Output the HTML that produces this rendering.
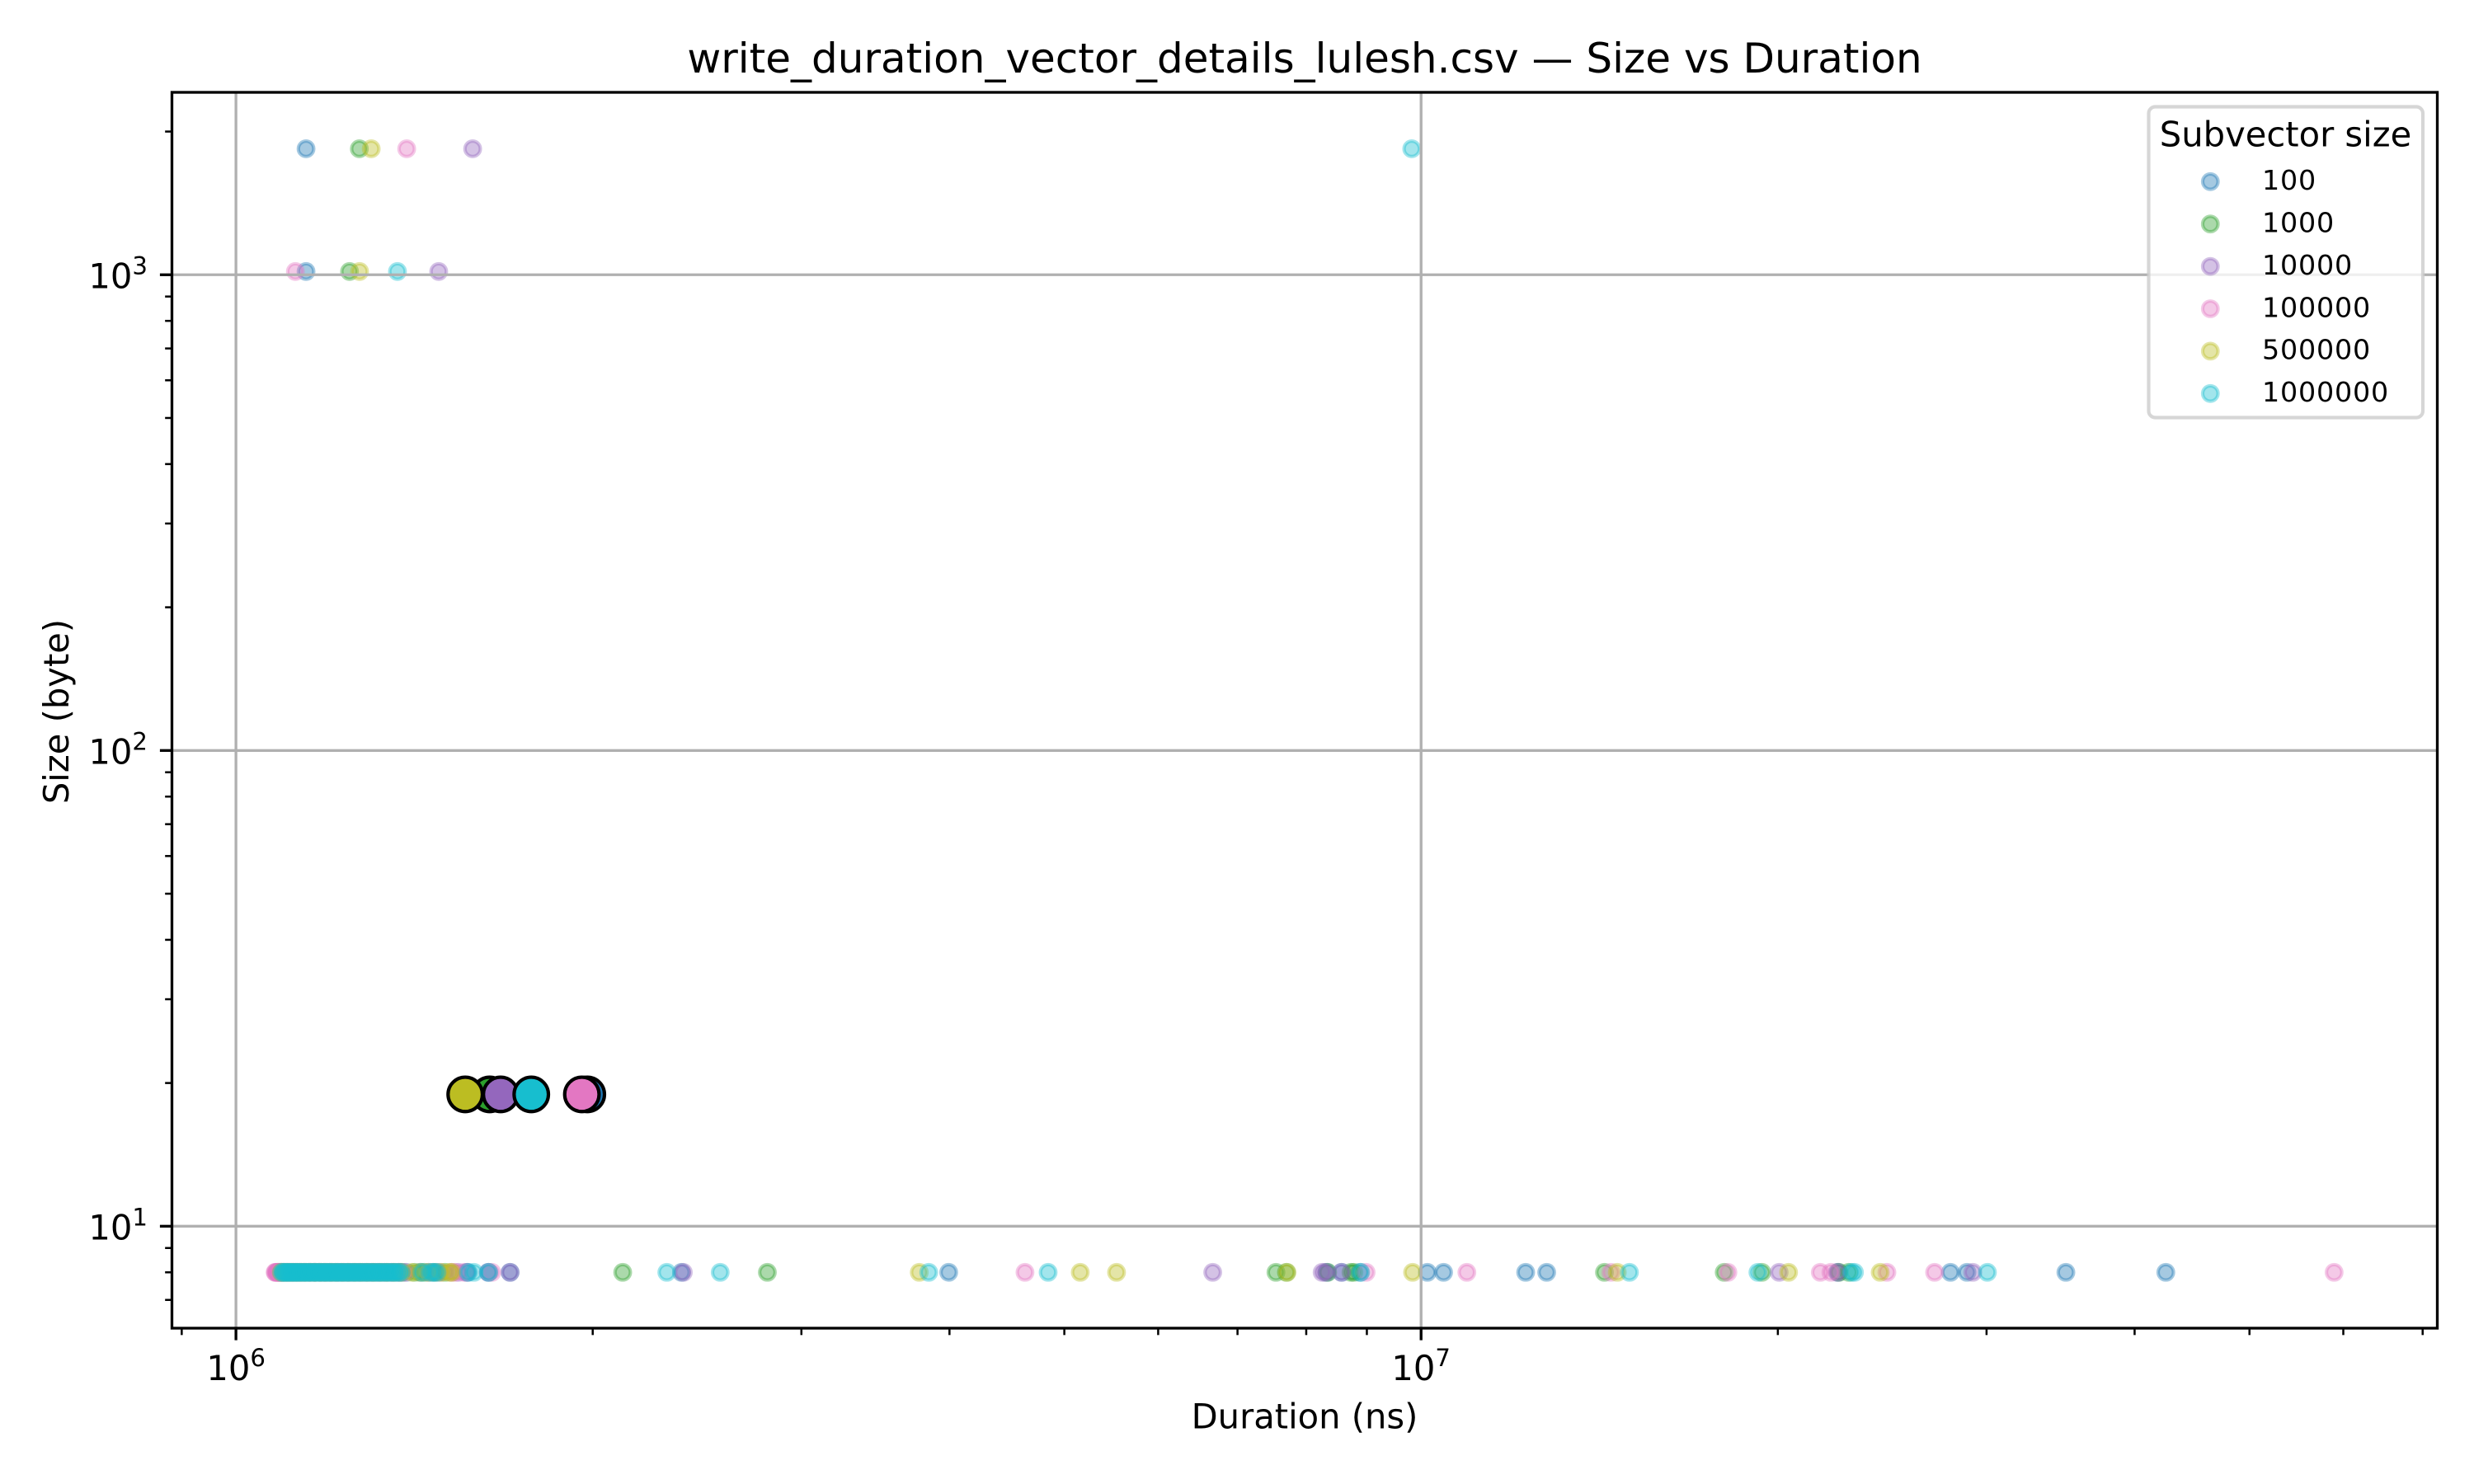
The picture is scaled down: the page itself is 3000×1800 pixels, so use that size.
<!DOCTYPE html>
<html lang="en">
<head>
<meta charset="utf-8">
<title>write_duration_vector_details_lulesh.csv — Size vs Duration</title>
<style>
html,body{margin:0;padding:0;background:#fff;}
svg{display:block;}
text{font-family:"DejaVu Sans","Liberation Sans",sans-serif;fill:#000;}
</style>
</head>
<body>
<svg id="chart" xmlns="http://www.w3.org/2000/svg" width="3000" height="1800" viewBox="0 0 3000 1800">
  <rect x="0" y="0" width="3000" height="1800" fill="#fff"/>
  <text x="1582" y="88" font-size="50" text-anchor="middle">write_duration_vector_details_lulesh.csv — Size vs Duration</text>
  <g id="small-marks"></g>
  <g id="grid"></g>
  <g id="large-marks"></g>
  <g id="ticks"></g>
  <rect x="208.5" y="112" width="2747" height="1499" fill="none" stroke="#000" stroke-width="3.33"/>
  <text x="1582" y="1732.5" font-size="41.67" text-anchor="middle">Duration (ns)</text>
  <text x="0" y="0" font-size="41.67" text-anchor="middle" transform="translate(83 863) rotate(-90)">Size (byte)</text>
  <g id="legend">
    <rect x="2605.5" y="129.5" width="332.5" height="377" rx="8" ry="8" fill="#fff" fill-opacity="0.8" stroke="#ccc" stroke-opacity="0.8" stroke-width="4.17"/>
    <text x="2771.5" y="177.3" font-size="41.67" text-anchor="middle">Subvector size</text>
  </g>
</svg>
<script>
const subvectorSizes = ['100', '1000', '10000', '100000', '500000', '1000000'];
const seriesColors = ['#1f77b4', '#2ca02c', '#9467bd', '#e377c2', '#bcbd22', '#17becf'];

const durationsAt1840Bytes = [1145900, 1270900, 1583900, 1393400, 1300600, 9820000];
const durationsAt1016Bytes = [1145900, 1246900, 1482800, 1122400, 1271500, 1368600];
const durationsAt19Bytes = [1979100, 1637100, 1672300, 1958300, 1561200, 1774900];

const durationsAt8Bytes100 = [1086000,1092000,1098000,1105000,1113000,1121000,1130000,1140000,1151000,1162000,1174000,1186000,1199000,1212000,1226000,1241000,1255000,1270000,1286000,1302000,1318000,1335000,1353000,1371000,1392000,1431000,1466000,1568000,1634000,1703400,2376400,3994000,8327000,8570000,8882000,10123000,10447000,12253000,12764000,22480000,27970000,28880000,35000000,42500000];
const durationsAt8Bytes1000 = [1090000,1096000,1103000,1110000,1118000,1127000,1136000,1146000,1157000,1168000,1180000,1193000,1205000,1219000,1233000,1247000,1262000,1278000,1294000,1310000,1327000,1344000,1362000,1381000,1415100,1442600,1473000,1500900,2120000,2808000,7543000,7698000,8340000,8727000,8775000,14280000,18020000,19390000,22520000,22950000];
const durationsAt8Bytes10000 = [1084000,1088000,1094000,1101000,1108000,1116000,1124000,1133000,1143000,1154000,1165000,1177000,1189000,1202000,1216000,1230000,1244000,1259000,1274000,1290000,1306000,1323000,1340000,1358000,1376000,1453600,1484800,1540600,1565500,1632200,1703400,2385000,6671000,8251000,8300000,8566000,20050000,22450000,29210000];
const durationsAt8Bytes100000 = [1079000,1080000,1081500,1083000,1084500,1086000,1088000,1090000,1093000,1097000,1102000,1109000,1117000,1126000,1135000,1145000,1156000,1168000,1180000,1192000,1206000,1220000,1235000,1250000,1266000,1282000,1298000,1315000,1333000,1351000,1370000,1388000,1520900,1530800,1558700,1644400,4632000,8987000,10930000,14460000,18150000,21720000,22170000,24720000,27120000,58940000];
const durationsAt8Bytes500000 = [1092000,1099000,1106000,1114000,1123000,1132000,1142000,1153000,1164000,1176000,1188000,1201000,1214000,1228000,1243000,1258000,1273000,1289000,1305000,1322000,1339000,1357000,1375000,1407800,1431200,1453600,1489600,1513600,1520900,3772000,5157000,5534000,7707000,9836000,14640000,20420000,24400000];
const durationsAt8Bytes1000000 = [1093000,1096000,1099000,1103000,1106000,1110000,1113000,1117000,1120000,1124000,1127000,1131000,1135000,1139000,1143000,1147000,1151000,1155000,1159000,1164000,1168000,1172000,1177000,1181000,1186000,1190000,1195000,1199000,1204000,1209000,1214000,1219000,1223000,1228000,1233000,1238000,1243000,1248000,1253000,1258000,1263000,1268000,1273000,1279000,1284000,1290000,1295000,1301000,1306000,1312000,1318000,1323000,1329000,1335000,1341000,1347000,1353000,1359000,1365000,1372000,1378000,1435700,1458900,1468300,1477800,1570500,1588000,1634000,2309700,2562200,3842000,4845000,8892000,14990000,19240000,23070000,23210000,30050000];

const sizeRows = [8, 18.93, 1016, 1840];
const xMajorTicks = [1000000, 10000000];
const xMinorTicks = [900000, 2000000, 3000000, 4000000, 5000000, 6000000, 7000000, 8000000, 9000000, 20000000, 30000000, 40000000, 50000000, 60000000, 70000000];
const yMajorTicks = [10, 100, 1000];
const yMinorTicks = [7, 8, 9, 20, 30, 40, 50, 60, 70, 80, 90, 200, 300, 400, 500, 600, 700, 800, 900, 2000];

const xDomain = [883060, 72022000];
const yDomain = [6.105, 2418];
const plotLeft = 208.5, plotRight = 2955.5, plotTop = 112, plotBottom = 1611;

const SVG_NS = 'http://www.w3.org/2000/svg';
const durationsAt8Bytes = [durationsAt8Bytes100, durationsAt8Bytes1000, durationsAt8Bytes10000, durationsAt8Bytes100000, durationsAt8Bytes500000, durationsAt8Bytes1000000];

function xScale(v) {
  const a = Math.log10(xDomain[0]), b = Math.log10(xDomain[1]);
  return plotLeft + (Math.log10(v) - a) / (b - a) * (plotRight - plotLeft);
}
function yScale(v) {
  const a = Math.log10(yDomain[0]), b = Math.log10(yDomain[1]);
  return plotBottom - (Math.log10(v) - a) / (b - a) * (plotBottom - plotTop);
}
function make(tag, attrs, parent) {
  const el = document.createElementNS(SVG_NS, tag);
  for (const k in attrs) el.setAttribute(k, attrs[k]);
  parent.appendChild(el);
  return el;
}
function smallDot(parent, cx, cy, color) {
  return make('circle', {cx: cx, cy: cy, r: 9.32, fill: color, 'fill-opacity': 0.4, stroke: color, 'stroke-opacity': 0.4, 'stroke-width': 4.17}, parent);
}

const smallLayer = document.getElementById('small-marks');
const largeLayer = document.getElementById('large-marks');
const gridLayer = document.getElementById('grid');
const tickLayer = document.getElementById('ticks');
const legendLayer = document.getElementById('legend');

subvectorSizes.forEach(function (name, i) {
  const color = seriesColors[i];
  durationsAt8Bytes[i].forEach(function (d) {
    const dot = smallDot(smallLayer, xScale(d), yScale(sizeRows[0]), color);
    
    
  });
  const a = smallDot(smallLayer, xScale(durationsAt1016Bytes[i]), yScale(sizeRows[2]), color);
  
  
  const b = smallDot(smallLayer, xScale(durationsAt1840Bytes[i]), yScale(sizeRows[3]), color);
  
  
  const big = make('circle', {cx: xScale(durationsAt19Bytes[i]), cy: yScale(sizeRows[1]), r: 20.83, fill: color, stroke: '#000', 'stroke-width': 4.17}, largeLayer);
  
  
});

xMajorTicks.forEach(function (v) {
  const x = xScale(v);
  const line = make('line', {x1: x, x2: x, y1: plotTop, y2: plotBottom, stroke: '#b0b0b0', 'stroke-width': 3.33}, gridLayer);
  
  
  const tick = make('line', {x1: x, x2: x, y1: plotBottom, y2: plotBottom + 14.6, stroke: '#000', 'stroke-width': 3.33}, tickLayer);
  
  
  const base = make('text', {x: x - 35.8, y: 1674, 'font-size': 41.67}, tickLayer);
  base.textContent = '10';
  
  
  const exp = make('text', {x: x + 17.2, y: 1657, 'font-size': 29.17}, tickLayer);
  exp.textContent = String(Math.round(Math.log10(v)));
  
  
});
xMinorTicks.forEach(function (v) {
  const x = xScale(v);
  const tick = make('line', {x1: x, x2: x, y1: plotBottom, y2: plotBottom + 8.33, stroke: '#000', 'stroke-width': 2.5}, tickLayer);
  
  
});
yMajorTicks.forEach(function (v) {
  const y = yScale(v);
  const line = make('line', {x1: plotLeft, x2: plotRight, y1: y, y2: y, stroke: '#b0b0b0', 'stroke-width': 3.33}, gridLayer);
  
  
  const tick = make('line', {x1: plotLeft - 14.6, x2: plotLeft, y1: y, y2: y, stroke: '#000', 'stroke-width': 3.33}, tickLayer);
  
  
  const base = make('text', {x: 160.4, y: y + 16, 'font-size': 41.67, 'text-anchor': 'end'}, tickLayer);
  base.textContent = '10';
  
  
  const exp = make('text', {x: 160.4, y: y - 0.6, 'font-size': 29.17}, tickLayer);
  exp.textContent = String(Math.round(Math.log10(v)));
  
  
});
yMinorTicks.forEach(function (v) {
  const y = yScale(v);
  const tick = make('line', {x1: plotLeft - 8.33, x2: plotLeft, y1: y, y2: y, stroke: '#000', 'stroke-width': 2.5}, tickLayer);
  
  
});

subvectorSizes.forEach(function (name, i) {
  const cy = 220.3 + i * 51.4;
  const swatch = smallDot(legendLayer, 2680.3, cy, seriesColors[i]);
  
  
  const label = make('text', {x: 2743, y: cy + 9.8, 'font-size': 33.33, 'letter-spacing': 0.8}, legendLayer);
  label.textContent = name;
  
  
});
</script>
</body>
</html>
